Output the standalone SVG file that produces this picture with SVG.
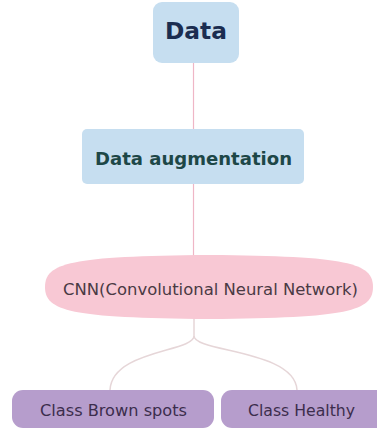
<svg xmlns="http://www.w3.org/2000/svg" width="377" height="434" viewBox="0 0 377 434">
  <style>
    .box-blue { fill: #c6def0; }
    .pill { fill: #f8c8d4; }
    .cls { fill: #b69dcc; }
    .link-top { fill: none; stroke: #efb6c6; stroke-width: 1.2; }
    .link-bot { fill: none; stroke: #e6d6d8; stroke-width: 1.5; }
    text { font-family: "DejaVu Sans", Verdana, sans-serif; text-anchor: middle; }
    .t-data { font-size: 22.5px; font-weight: bold; fill: #1b2d50; }
    .t-aug { font-size: 18px; font-weight: bold; fill: #1d4747; }
    .t-cnn { font-size: 16.4px; fill: #4a3a44; }
    .t-cls { font-size: 16px; fill: #3c2d4c; }
  </style>
  <rect width="377" height="434" fill="#ffffff"/>

  <g id="connectors">
    <line class="link-top" x1="193.5" y1="62" x2="193.5" y2="129"/>
    <line class="link-top" x1="193.5" y1="184" x2="193.5" y2="258"/>
    <path class="link-bot" d="M194 317 V336 C194 352 112 350 110 390"/>
    <path class="link-bot" d="M194 336 C194 352 295 350 297 390"/>
  </g>

  <g id="data">
    <rect class="box-blue" x="153" y="2" width="86" height="61" rx="9"/>
    <text class="t-data" x="196" y="39" textLength="62" lengthAdjust="spacingAndGlyphs">Data</text>
  </g>

  <g id="augmentation">
    <rect class="box-blue" x="82" y="129" width="222" height="55" rx="5"/>
    <text class="t-aug" x="193.5" y="165" textLength="197" lengthAdjust="spacingAndGlyphs">Data augmentation</text>
  </g>

  <g id="cnn">
    <path class="pill" d="M45 287 C45 263 70 256 209 255 C348 256 373 263 373 287 C373 311 348 318 209 319 C70 318 45 311 45 287 Z"/>
    <text class="t-cnn" x="210.5" y="295" textLength="295" lengthAdjust="spacingAndGlyphs">CNN(Convolutional Neural Network)</text>
  </g>

  <g id="class-brown">
    <rect class="cls" x="12" y="390" width="202" height="38" rx="11"/>
    <text class="t-cls" x="113.5" y="416" textLength="147" lengthAdjust="spacingAndGlyphs">Class Brown spots</text>
  </g>

  <g id="class-healthy">
    <rect class="cls" x="221" y="390" width="170" height="38" rx="11"/>
    <text class="t-cls" x="301.5" y="416" textLength="107" lengthAdjust="spacingAndGlyphs">Class Healthy</text>
  </g>
</svg>
